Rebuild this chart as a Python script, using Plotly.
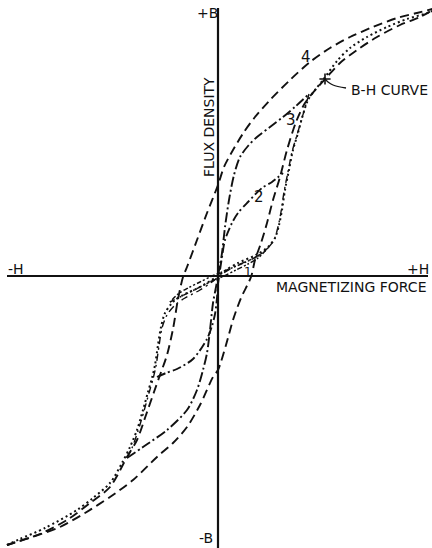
import plotly.graph_objects as go

# Coordinates: H (magnetizing force) and B (flux density), arbitrary units, origin at axis crossing
# Loop 4 - descending branch (from +tip to -tip)
LOOP4_DESC_H = [218, 199, 179, 155, 132, 112, 92, 72, 52, 37, 26, 15, 6, 0, -11, -21, -31, -35, -40, -45,
                -51, -58, -64, -72, -81, -91, -108, -128, -151, -178, -211]
LOOP4_DESC_B = [268, 263, 258, 249, 239, 228, 214, 196, 176, 159, 144, 126, 109, 91, 63, 36, 9, -1, -23, -53,
                -79, -99, -116, -139, -164, -181, -211, -227, -244, -258, -269]
# Loop 4 - ascending branch (from -tip to +tip)
LOOP4_ASC_H = [-211, -205, -183, -158, -133, -108, -85, -61, -45, -31, -18, -5, 0, 8, 15, 23, 33, 37, 43, 49,
               55, 62, 69, 78, 87, 99, 109, 122, 139, 159, 182, 202, 218]
LOOP4_ASC_B = [-269, -267, -260, -251, -237, -221, -204, -181, -167, -151, -129, -101, -94, -69, -44, -22, -1,
               16, 33, 53, 76, 99, 126, 154, 173, 188, 199, 213, 226, 239, 251, 259, 268]
# Normal B-H (magnetization) curve
BH_H = [-211, -198, -173, -141, -125, -108, -96, -88, -81, -75, -70, -66, -63, -60, -57, -53, -45, -35, -20, -8,
        0, 8, 20, 38, 50, 57, 61, 64, 67, 71, 75, 80, 84, 90, 97, 105, 119, 132, 149, 169, 189, 212, 218]
BH_B = [-269, -263, -252, -234, -222, -207, -187, -171, -154, -134, -116, -102, -89, -69, -51, -37, -26, -19, -12, -5,
        0, 6, 13, 21, 29, 38, 51, 66, 86, 106, 126, 143, 158, 176, 186, 196, 215, 228, 239, 249, 257, 264, 268]
# Loop 3 branches
LOOP3_A_H = [-91, -75, -51, -31, -21, -15, -11, -8, -5, -2, 0, 2, 4, 7, 11, 16, 22, 30, 39, 52, 65, 78, 91]
LOOP3_A_B = [-182, -171, -154, -134, -114, -94, -77, -54, -27, -11, 0, 11, 23, 49, 76, 101, 119, 130, 139, 149,
             159, 170, 182]
LOOP3_B_H = [-91, -86, -80, -74, -69, -65, -62, -59, -56, -51, -43, -33, -18, -6, 4, 18, 36, 48, 56, 60, 63, 66,
             70, 74, 79, 84, 91]
LOOP3_B_B = [-182, -172, -155, -135, -117, -103, -90, -70, -52, -39, -29, -22, -14, -6, 2, 10, 18, 26, 36, 49, 64,
             84, 104, 124, 141, 158, 182]
# Loop 2
LOOP2_H = [-61, -52, -41, -25, -11, -6, -3, -1, 0, 2, 4, 7, 14, 20, 30, 44, 54, 65]
LOOP2_B = [-101, -97, -93, -83, -63, -50, -38, -22, -8, 6, 19, 36, 53, 63, 74, 88, 94, 103]
# Loop 1
LOOP1_DESC_H = [50, 40, 28, 16, 4, -6, -18, -30, -40, -48]
LOOP1_DESC_B = [28, 20, 14, 9, 4, 0, -6, -12, -18, -26]
LOOP1_ASC_H = [-48, -38, -26, -14, -4, 6, 18, 30, 40, 50]
LOOP1_ASC_B = [-26, -21, -15, -9, -4, 0, 6, 12, 18, 28]
# Axes extents
H_AXIS = [-211, 210]
B_AXIS = [268, -272]
# Leader for the B-H curve label
LEADER_H = [128, 115, 110, 107]
LEADER_B = [188, 191, 194, 197]

INK = "#111111"
fig = go.Figure()

def add_line(h, b, dash, width=1.9):
    fig.add_trace(go.Scatter(x=h, y=b, mode="lines",
                             line=dict(color=INK, width=width, dash=dash, shape="spline", smoothing=0.8),
                             hoverinfo="skip", showlegend=False))

# axes
fig.add_trace(go.Scatter(x=H_AXIS, y=[0, 0], mode="lines", line=dict(color=INK, width=2.2),
                         hoverinfo="skip", showlegend=False))
fig.add_trace(go.Scatter(x=[0, 0], y=B_AXIS, mode="lines", line=dict(color=INK, width=2.2),
                         hoverinfo="skip", showlegend=False))

add_line(LOOP4_DESC_H, LOOP4_DESC_B, "9px,5px")
add_line(LOOP4_ASC_H, LOOP4_ASC_B, "9px,5px")
add_line(BH_H, BH_B, "2px,3px", 2.0)
add_line(LOOP3_A_H, LOOP3_A_B, "10px,3px,2px,3px")
add_line(LOOP3_B_H, LOOP3_B_B, "7px,4px,2px,4px", 1.4)
add_line(LOOP2_H, LOOP2_B, "9px,3px,2px,3px")
add_line(LOOP1_DESC_H, LOOP1_DESC_B, "5px,2px,2px,2px,2px,2px", 1.5)
add_line(LOOP1_ASC_H, LOOP1_ASC_B, "5px,2px,2px,2px,2px,2px", 1.5)

fig.add_trace(go.Scatter(x=LEADER_H, y=LEADER_B, mode="lines", line=dict(color=INK, width=1.3, shape="spline"),
                         hoverinfo="skip", showlegend=False))
fig.add_trace(go.Scatter(x=[LEADER_H[-1]], y=[LEADER_B[-1]], mode="markers",
                         marker=dict(symbol="cross-thin", size=8, line=dict(color=INK, width=1.6)),
                         hoverinfo="skip", showlegend=False))

FONT = "DejaVu Sans"
def label(text, h, b, size=14, angle=0, xanchor="center"):
    fig.add_annotation(x=h, y=b, text=text, showarrow=False, textangle=angle, xanchor=xanchor,
                       yanchor="middle", font=dict(family=FONT, size=size, color=INK))

label("+B", -11, 263, 14)
label("-B", -12, -262, 14)
label("-H", -202, 7, 14)
label("+H", 200, 7, 14)
label("MAGNETIZING FORCE", 133, -11, 14)
label("FLUX DENSITY", -9, 149, 14, angle=-90)
label("B-H CURVE", 171, 186, 14)
label("4", 88, 219, 15)
label("3", 73, 156, 15)
label("2", 41, 79, 15)
label("1", 30, 4, 12)

fig.update_layout(
    width=432, height=548, margin=dict(l=0, r=0, t=0, b=0),
    paper_bgcolor="white", plot_bgcolor="white",
    xaxis=dict(range=[-218, 214], visible=False, fixedrange=True),
    yaxis=dict(range=[-272, 276], visible=False, fixedrange=True),
)
fig.write_html("out.html", config={"displayModeBar": False},
               post_script="document.body.style.margin='0';document.body.style.overflow='hidden';")
